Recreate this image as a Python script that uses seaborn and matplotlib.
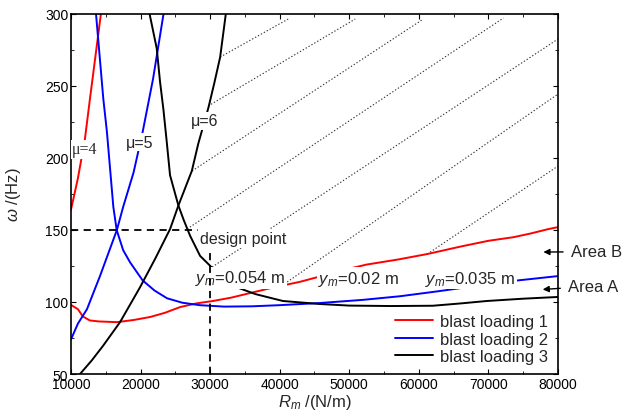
import numpy as np
import pandas as pd
import matplotlib
matplotlib.use("Agg")
import matplotlib.pyplot as plt
import matplotlib.ticker as mticker
import seaborn as sns

# ---- data ----
# blast loading 1 (red)
mu4_x = [10000, 11000, 12000, 12700, 13500, 14300]
mu4_y = [164, 186, 213, 240, 270, 300]
bl1_x = [10000, 11000, 11700, 12700, 14000, 16600, 19000, 21400, 23500, 25700, 28000, 30400,
         33000, 36000, 39000, 42900, 46000, 49000, 52500, 57000, 61200, 66000, 70000, 73600,
         76000, 78500, 80000]
bl1_y = [98, 95, 90, 87.2, 86.5, 86, 87.5, 89.6, 92.5, 96.5, 99, 100.7,
         103, 106.5, 110, 114, 118, 122, 126, 129.5, 133.3, 138.5, 142.5, 145,
         147.5, 150.5, 152]

# blast loading 2 (blue)
mu5_x = [10000, 11000, 12300, 14170, 16600, 17500, 19000, 20300, 21800, 23300]
mu5_y = [74, 85, 95, 118, 150, 166, 190, 218, 255, 300]
bl2_x = [13600, 14650, 15170, 16090, 16570, 17500, 18500, 20300, 22000, 23800, 26000, 28500,
         32000, 36000, 40000, 45800, 52000, 57300, 63000, 68000, 73500, 80000]
bl2_y = [300, 241, 218, 166, 150, 136, 127.5, 115, 108, 102.6, 99.5, 97.8,
         96.8, 97, 97.8, 99.3, 101.5, 104, 107.6, 111, 114.6, 118]

# blast loading 3 (black)
mu6_x = [11300, 13000, 14600, 17050, 19900, 22100, 24250, 25440, 27370, 28300, 29000, 29760,
         30600, 31440, 32200, 32250]
mu6_y = [50, 59.5, 69.5, 86, 110, 130, 150.7, 167, 191, 210, 222, 235,
         252, 270, 298, 300]
bl3_x = [21300, 22330, 22800, 23280, 23770, 24240, 25440, 26200, 27120, 28560, 30240, 33840,
         36500, 40460, 45780, 50000, 56000, 62000, 66000, 69770, 75000, 80000]
bl3_y = [300, 276, 253, 234, 211, 188, 167, 157, 146, 132, 124, 110.2,
         105.5, 100.7, 98.6, 97.5, 97.2, 97.4, 99, 100.7, 102.3, 103.5]

# dotted iso-displacement lines (start / end)
iso_x0 = [31440, 29710, 27410, 26690, 30290, 41080, 61220]
iso_y0 = [270.1, 236.1, 191.0, 150.7, 124.3, 113.9, 133.3]
iso_x1 = [41220, 50860, 60650, 72160, 80000, 80000, 80000]
iso_y1 = [296.5, 296.5, 296.5, 297.2, 282.6, 244.4, 194.4]

design_x, design_y = 30000, 150

mu_labels = ["μ=4", "μ=5", "μ=6"]
mu_label_x = [12010, 19930, 29280]
mu_label_y = [206, 211, 225.7]

ym_labels = ["$y_m$=0.054 m", "$y_m$=0.02 m", "$y_m$=0.035 m"]
ym_label_x = [27840, 45540, 60940]
ym_label_y = [116.7, 116.5, 116.5]

legend_labels = ["blast loading 1", "blast loading 2", "blast loading 3"]
colors = ["#ff0000", "#0000ff", "#000000"]

# ---- style ----
sns.set_style("ticks")
plt.rcParams['font.family'] = ['Liberation Sans', 'DejaVu Sans']
plt.rcParams['mathtext.fontset'] = 'custom'
plt.rcParams['mathtext.rm'] = 'Liberation Sans'
plt.rcParams['mathtext.it'] = 'Liberation Sans:italic'

fig = plt.figure(figsize=(6.22, 4.14), dpi=100)
ax = fig.add_axes([0.1141, 0.0942, 0.783, 0.8696])

lw = 1.4
branches = [(mu4_x, mu4_y, bl1_x, bl1_y), (mu5_x, mu5_y, bl2_x, bl2_y), (mu6_x, mu6_y, bl3_x, bl3_y)]
for (mx, my, bx, by), c, lab in zip(branches, colors, legend_labels):
    sns.lineplot(x=mx, y=my, sort=False, estimator=None, color=c, lw=lw, ax=ax, zorder=2)
    sns.lineplot(x=bx, y=by, sort=False, estimator=None, color=c, lw=lw, ax=ax, zorder=2, label=lab)

# dotted lines in the upper right area
for x0, y0, x1, y1 in zip(iso_x0, iso_y0, iso_x1, iso_y1):
    ax.plot([x0, x1], [y0, y1], color='#333333', lw=0.8, dashes=(1.2, 1.8), zorder=1)

# design point guides
ax.plot([10000, design_x], [design_y, design_y], color='k', lw=1.3, dashes=(4, 3), zorder=2.5)
ax.plot([design_x, design_x], [50, design_y], color='k', lw=1.3, dashes=(4, 3), zorder=4)
ax.text(design_x - 1450, design_y - 6, "design point", fontsize=11.5, ha='left', va='center',
        zorder=5, bbox=dict(facecolor='white', edgecolor='none', pad=1.5))

for t, x, y in zip(mu_labels, mu_label_x, mu_label_y):
    fam = ['Liberation Serif'] if t == "μ=4" else ['Liberation Sans', 'DejaVu Sans']
    ax.text(x, y, t, fontsize=11.5, ha='center', va='center', family=fam, zorder=3,
            bbox=dict(facecolor='white', edgecolor='none', pad=1))

for t, x, y in zip(ym_labels, ym_label_x, ym_label_y):
    ax.text(x, y, t, fontsize=12, ha='left', va='center', zorder=3,
            bbox=dict(facecolor='white', edgecolor='none', pad=1))

# area annotations
arrow = dict(arrowstyle='-|>', color='k', lw=1.0, mutation_scale=9, shrinkA=3, shrinkB=0)
ax.annotate("Area B", xy=(77900, 134.7), xytext=(81800, 134.9), fontsize=12,
            va='center', ha='left', arrowprops=arrow, annotation_clip=False)
ax.annotate("Area A", xy=(77800, 108.7), xytext=(81400, 111), fontsize=12,
            va='center', ha='left', arrowprops=arrow, annotation_clip=False)

# axes
ax.set_xlim(10000, 80000)
ax.set_ylim(50, 300)
ax.xaxis.set_major_locator(mticker.MultipleLocator(10000))
ax.xaxis.set_minor_locator(mticker.MultipleLocator(5000))
ax.yaxis.set_major_locator(mticker.MultipleLocator(50))
ax.yaxis.set_minor_locator(mticker.MultipleLocator(25))
ax.xaxis.set_major_formatter(mticker.FuncFormatter(lambda v, _: f"{int(v)}"))
ax.tick_params(which='both', direction='in', top=True, right=True, colors='k', labelsize=10)
ax.tick_params(which='major', length=3.5, width=0.8, pad=2)
ax.tick_params(which='minor', length=2, width=0.6)
for s in ax.spines.values():
    s.set_linewidth(1.2)
    s.set_color('k')

ax.set_xlabel("$R_m$ /(N/m)", fontsize=12, labelpad=1)
ax.set_ylabel("$\\omega$ /(Hz)", fontsize=12, labelpad=16)

ax.legend(loc='lower right', bbox_to_anchor=(1.0, 0.0), frameon=False, fontsize=12,
          handlelength=2.3, handletextpad=0.4, labelspacing=0.15, borderaxespad=0.2)

fig.savefig("out.png", dpi=100)
